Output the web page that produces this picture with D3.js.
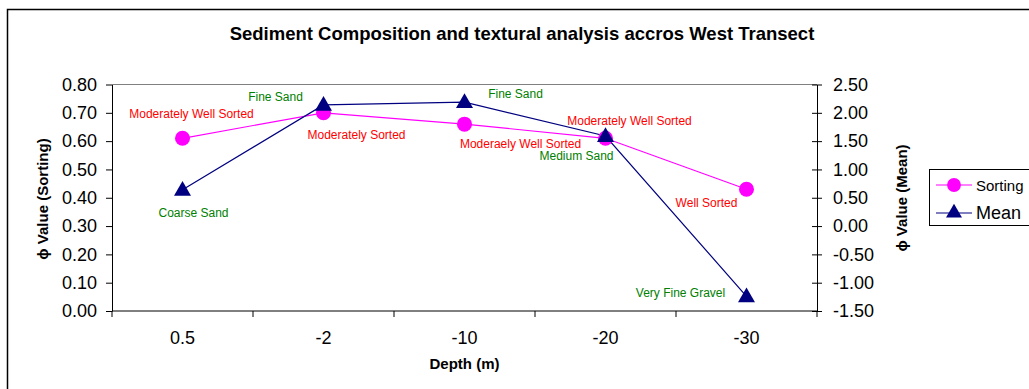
<!DOCTYPE html>
<html>
<head>
<meta charset="utf-8">
<script src="https://cdn.jsdelivr.net/npm/d3@7"></script>
<style>
  body { margin: 0; background: #fff; }
  svg { font-family: "Liberation Sans", Arial, sans-serif; }
</style>
</head>
<body>
<svg id="chart"></svg>
<script>
"use strict";

const depths = ['0.5', '-2', '-10', '-20', '-30'];
const sorting = [0.61, 0.70, 0.66, 0.61, 0.43];
const mean = [0.64, 2.14, 2.19, 1.59, -1.24];
const sortingLabels = ['Moderately Well Sorted', 'Moderately Sorted', 'Moderaely Well Sorted', 'Moderately Well Sorted', 'Well Sorted'];
const meanLabels = ['Coarse Sand', 'Fine Sand', 'Fine Sand', 'Medium Sand', 'Very Fine Gravel'];
const leftTicks = [0, 0.1, 0.2, 0.3, 0.4, 0.5, 0.6, 0.7, 0.8];
const rightTicks = [-1.5, -1, -0.5, 0, 0.5, 1, 1.5, 2, 2.5];

// label offsets from their point (layout only)
const sortOffsets = [[9, -24], [33, 22], [56, 20], [24, -17], [-40, 14]];
const meanOffsets = [[11, 23], [-48, -8], [51, -8], [-29, 20], [-66, -3]];

const W = 1029, H = 389;
const plot = {left: 112, right: 817, top: 84.5, bottom: 311};

const svg = d3.select('#chart').attr('width', W).attr('height', H);

// outer chart border
svg.append('rect')
  .attr('x', 7.5).attr('y', 9.5)
  .attr('width', 1200).attr('height', 600)
  .attr('fill', 'none').attr('stroke', '#000').attr('stroke-width', 1.5);

const x = d3.scaleBand().domain(depths).range([plot.left, plot.right]).padding(0);
const yL = d3.scaleLinear().domain([0, 0.8]).range([plot.bottom, plot.top]);
const yR = d3.scaleLinear().domain([-1.5, 2.5]).range([plot.bottom, plot.top]);
const cx = d => x(d) + x.bandwidth() / 2;
const fmt = d => d.toFixed(2);   // plain hyphen minus like Excel

// plot area top border
svg.append('line')
  .attr('x1', plot.left).attr('x2', plot.right)
  .attr('y1', plot.top).attr('y2', plot.top)
  .attr('stroke', '#808080').attr('stroke-width', 1);

// left axis
const gL = svg.append('g')
  .attr('transform', `translate(${plot.left},0)`)
  .call(d3.axisLeft(yL).tickValues(leftTicks).tickFormat(fmt).tickSize(6).tickPadding(9).tickSizeOuter(0));
gL.selectAll('text').attr('font-size', 18).attr('font-family', '"Liberation Sans", Arial, sans-serif').attr('fill', '#000');

// right axis, ticks crossing the line
const gR = svg.append('g')
  .attr('transform', `translate(${plot.right},0)`)
  .call(d3.axisRight(yR).tickValues(rightTicks).tickFormat(fmt).tickSizeOuter(0));
gR.selectAll('.tick line').attr('x1', -5).attr('x2', 5);
gR.selectAll('text').attr('x', 16).attr('font-size', 18).attr('font-family', '"Liberation Sans", Arial, sans-serif').attr('fill', '#000');

// bottom axis: labels at band centres, ticks at band edges
const gB = svg.append('g')
  .attr('transform', `translate(0,${plot.bottom})`)
  .call(d3.axisBottom(x).tickSize(0).tickPadding(20).tickSizeOuter(0));
gB.select('.domain').attr('d', `M${plot.left},0H${plot.right}`);
gB.selectAll('text').attr('font-size', 18).attr('font-family', '"Liberation Sans", Arial, sans-serif').attr('fill', '#000');
gB.selectAll('line.edge')
  .data(depths.concat(['end']))
  .join('line')
  .attr('class', 'edge')
  .attr('x1', d => d === 'end' ? plot.right : x(d))
  .attr('x2', d => d === 'end' ? plot.right : x(d))
  .attr('y1', 0).attr('y2', 6)
  .attr('stroke', '#000');

[gL, gR, gB].forEach(g => g.selectAll('.domain, .tick line').attr('stroke', '#000'));

// axis titles
svg.append('text')
  .attr('x', (plot.left + plot.right) / 2).attr('y', 369)
  .attr('text-anchor', 'middle')
  .attr('font-size', 15).attr('font-weight', 'bold')
  .text('Depth (m)');

svg.append('text')
  .attr('transform', 'translate(48,199) rotate(-90)')
  .attr('text-anchor', 'middle')
  .attr('font-size', 15).attr('font-weight', 'bold')
  .text('ϕ Value (Sorting)');

svg.append('text')
  .attr('transform', 'translate(907,198) rotate(-90)')
  .attr('text-anchor', 'middle')
  .attr('font-size', 15).attr('font-weight', 'bold')
  .text('ϕ Value (Mean)');

svg.append('text')
  .attr('x', 522).attr('y', 40)
  .attr('text-anchor', 'middle')
  .attr('font-size', 18.5).attr('font-weight', 'bold')
  .text('Sediment Composition and textural analysis accros West Transect');

// series
const sortData = depths.map((d, i) => ({d, v: sorting[i], label: sortingLabels[i], off: sortOffsets[i]}));
const meanData = depths.map((d, i) => ({d, v: mean[i], label: meanLabels[i], off: meanOffsets[i]}));

svg.append('path')
  .datum(sortData)
  .attr('d', d3.line().x(p => cx(p.d)).y(p => yL(p.v)))
  .attr('fill', 'none').attr('stroke', '#FF00FF').attr('stroke-width', 1.2);

svg.append('path')
  .datum(meanData)
  .attr('d', d3.line().x(p => cx(p.d)).y(p => yR(p.v)))
  .attr('fill', 'none').attr('stroke', '#000080').attr('stroke-width', 1.2);

svg.append('g').selectAll('circle')
  .data(sortData)
  .join('circle')
  .attr('cx', p => cx(p.d)).attr('cy', p => yL(p.v))
  .attr('r', 7.5).attr('fill', '#FF00FF');

const triangle = d3.symbol().type(d3.symbolTriangle).size(125);
svg.append('g').selectAll('path')
  .data(meanData)
  .join('path')
  .attr('d', triangle)
  .attr('transform', p => `translate(${cx(p.d)},${yR(p.v) + 1})`)
  .attr('fill', '#000080');

// data labels
svg.append('g').selectAll('text')
  .data(sortData)
  .join('text')
  .attr('x', p => cx(p.d) + p.off[0])
  .attr('y', p => yL(p.v) + p.off[1])
  .attr('text-anchor', 'middle').attr('dominant-baseline', 'central')
  .attr('font-size', 12).attr('fill', '#FF0000')
  .text(p => p.label);

svg.append('g').selectAll('text')
  .data(meanData)
  .join('text')
  .attr('x', p => cx(p.d) + p.off[0])
  .attr('y', p => yR(p.v) + p.off[1])
  .attr('text-anchor', 'middle').attr('dominant-baseline', 'central')
  .attr('font-size', 12).attr('fill', '#008000')
  .text(p => p.label);

// legend
const legend = svg.append('g').attr('transform', 'translate(929,169)');
legend.append('rect')
  .attr('x', 0.5).attr('y', 0.5).attr('width', 110).attr('height', 56)
  .attr('fill', '#fff').attr('stroke', '#000');

const items = [
  {name: 'Sorting', color: '#FF00FF', y: 16, size: 15, shape: 'circle'},
  {name: 'Mean', color: '#000080', y: 44, size: 18, shape: 'triangle'}
];
const li = legend.selectAll('g.item').data(items).join('g').attr('class', 'item')
  .attr('transform', d => `translate(0,${d.y})`);
li.append('line')
  .attr('x1', 7).attr('x2', 43).attr('y1', 0).attr('y2', 0)
  .attr('stroke', d => d.color).attr('stroke-width', 1.2);
li.append('path')
  .attr('d', d => d.shape === 'circle' ? d3.symbol().type(d3.symbolCircle).size(150)() : d3.symbol().type(d3.symbolTriangle).size(110)())
  .attr('transform', 'translate(25,0)')
  .attr('fill', d => d.color);
li.append('text')
  .attr('x', 47).attr('y', 0)
  .attr('dominant-baseline', 'central')
  .attr('font-size', d => d.size)
  .text(d => d.name);
</script>
</body>
</html>
